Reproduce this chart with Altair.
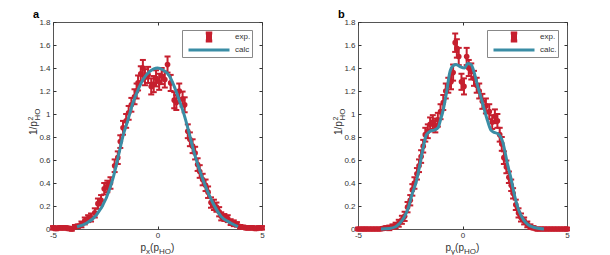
import altair as alt
import pandas as pd

RED = "#C61F2E"
TEAL = "#3A8DA5"
INK = "#333333"
FONT = "Liberation Sans"

# ---------------- panel a data ----------------
A_X = [-5.0, -4.85, -4.7, -4.55, -4.4, -4.25, -4.1, -3.95, -3.8, -3.64,
       -3.48, -3.32, -3.18, -3.0, -2.85, -2.7, -2.55, -2.4, -2.25, -2.05,
       -1.9, -1.78, -1.65, -1.5, -1.38, -1.25, -1.1, -1.0, -0.93, -0.8,
       -0.7, -0.6, -0.45, -0.3, -0.18, -0.07, 0.08, 0.2, 0.35, 0.48,
       0.63, 0.8, 0.9, 1.04, 1.2, 1.3, 1.45, 1.55, 1.68, 1.8,
       1.92, 2.02, 2.16, 2.3, 2.42, 2.56, 2.7, 2.82, 2.95, 3.05,
       3.2, 3.36, 3.5, 3.65, 3.8, 3.95, 4.1, 4.25, 4.4, 4.55,
       4.7, 4.85, 5.0]
A_Y = [0.01, 0.005, 0.01, 0.01, 0.01, 0.005, 0.0, 0.02, 0.025, 0.04,
       0.07, 0.09, 0.10, 0.14, 0.22, 0.25, 0.35, 0.37, 0.40, 0.55,
       0.62, 0.76, 0.88, 0.94, 1.01, 1.08, 1.15, 1.20, 1.27, 1.35,
       1.40, 1.32, 1.34, 1.24, 1.26, 1.31, 1.28, 1.33, 1.30, 1.43,
       1.27, 1.12, 1.10, 1.20, 1.13, 1.08, 0.85, 0.78, 0.72, 0.66,
       0.56, 0.50, 0.43, 0.38, 0.32, 0.23, 0.21, 0.19, 0.15, 0.11,
       0.10, 0.09, 0.06, 0.05, 0.04, 0.02, 0.015, 0.01, 0.01, 0.01,
       0.005, 0.01, 0.01]
A_ERR = [0.015, 0.015, 0.015, 0.015, 0.015, 0.015, 0.015, 0.015, 0.015,
         0.025, 0.03, 0.03, 0.035,
         0.04, 0.045, 0.045, 0.05, 0.05, 0.05, 0.055,
         0.055, 0.055, 0.06, 0.06, 0.06, 0.06, 0.065, 0.065, 0.065, 0.065,
         0.07, 0.07, 0.07, 0.07, 0.07, 0.07, 0.07, 0.07, 0.07, 0.07, 0.07, 0.07,
         0.065, 0.065, 0.065, 0.065, 0.06, 0.06, 0.06, 0.055, 0.055, 0.055,
         0.05, 0.05, 0.05, 0.045, 0.045, 0.04, 0.04, 0.035,
         0.03, 0.03, 0.025, 0.025, 0.02,
         0.015, 0.015, 0.015, 0.015, 0.015, 0.015, 0.015, 0.015]
A_CALC_X = [-3.85, -3.4, -2.93, -2.45, -2.13, -1.89, -1.65, -1.41, -1.17, -0.93,
            -0.69, -0.37, 0.0, 0.25, 0.57, 0.8, 1.04, 1.28, 1.52, 1.76,
            2.0, 2.32, 2.64, 3.04, 3.52, 3.85]
A_CALC_Y = [0.02, 0.05, 0.12, 0.27, 0.44, 0.62, 0.81, 0.95, 1.10, 1.21,
            1.30, 1.37, 1.40, 1.385, 1.33, 1.24, 1.12, 0.99, 0.83, 0.66,
            0.52, 0.36, 0.23, 0.11, 0.05, 0.02]
A_LEGEND = ["exp.", "calc"]

# ---------------- panel b data ----------------
B_X = [-5.0, -4.85, -4.7, -4.55, -4.4, -4.25, -4.1, -3.95, -3.8,
       -3.65, -3.5, -3.35, -3.2, -3.05, -2.9,
       -2.77, -2.63, -2.5, -2.4, -2.3,
       -2.18, -2.08, -1.98, -1.88, -1.78,
       -1.66, -1.55, -1.42, -1.3, -1.18,
       -1.05, -0.92, -0.8, -0.68, -0.55,
       -0.45, -0.35, -0.27, -0.18, -0.05,
       0.07, 0.2, 0.3, 0.42, 0.55,
       0.68, 0.8, 0.95, 1.12, 1.28,
       1.42, 1.55, 1.67, 1.78, 1.88,
       1.98, 2.1, 2.22, 2.33, 2.42,
       2.55, 2.68, 2.8, 2.95, 3.1,
       3.25, 3.4, 3.55, 3.7, 3.85,
       4.0, 4.15, 4.3, 4.45, 4.6,
       4.75, 4.9, 5.0]
B_Y = [0.0, 0.0, 0.0, 0.0, 0.0, 0.0, 0.0, 0.0, 0.005,
       0.01, 0.01, 0.02, 0.03, 0.05, 0.08,
       0.11, 0.19, 0.25, 0.34, 0.40,
       0.48, 0.55, 0.63, 0.72, 0.82,
       0.85, 0.91, 0.93, 0.90, 0.95,
       1.02, 1.10, 1.20, 1.25, 1.28,
       1.36, 1.62, 1.57, 1.50, 1.28,
       1.24, 1.50, 1.40, 1.37, 1.31,
       1.25, 1.20, 1.11, 1.07, 1.02,
       0.93, 0.98, 0.94, 0.82, 0.74,
       0.62, 0.54, 0.45, 0.38, 0.31,
       0.21, 0.14, 0.10, 0.07, 0.04,
       0.02, 0.01, 0.0, 0.0, 0.0,
       0.0, 0.0, 0.0, 0.0, 0.0,
       0.0, 0.0, 0.0]
B_ERR = [0.012, 0.012, 0.012, 0.012, 0.012, 0.012, 0.012, 0.012, 0.012,
         0.015, 0.02, 0.02, 0.025, 0.03, 0.035,
         0.04, 0.045, 0.045, 0.05, 0.05,
         0.05, 0.055, 0.055, 0.055, 0.06,
         0.06, 0.06, 0.06, 0.06, 0.06,
         0.065, 0.065, 0.065, 0.065, 0.065,
         0.07, 0.08, 0.08, 0.075, 0.07,
         0.07, 0.075, 0.07, 0.07, 0.065,
         0.065, 0.065, 0.065, 0.065, 0.065,
         0.06, 0.06, 0.06, 0.06, 0.06,
         0.055, 0.055, 0.05, 0.05, 0.045,
         0.045, 0.04, 0.035, 0.03, 0.025,
         0.02, 0.015, 0.012, 0.012, 0.012,
         0.012, 0.012, 0.012, 0.012, 0.012,
         0.012, 0.012, 0.012]
B_CALC_X = [-3.9, -3.5, -3.2, -3.0, -2.8, -2.6, -2.4, -2.2, -2.05, -1.9,
            -1.73, -1.55, -1.35, -1.17, -1.05, -0.93, -0.77, -0.61, -0.45, -0.3,
            -0.1, 0.1, 0.25, 0.41, 0.56, 0.73, 0.89, 1.04, 1.2, 1.36,
            1.52, 1.68, 1.92, 2.16, 2.32, 2.48, 2.72, 2.92, 3.12, 3.4,
            3.9]
B_CALC_Y = [0.0, 0.005, 0.02, 0.05, 0.10, 0.18, 0.31, 0.42, 0.55, 0.69,
            0.82, 0.85, 0.86, 0.88, 0.95, 1.03, 1.18, 1.36, 1.42, 1.43,
            1.41, 1.40, 1.44, 1.43, 1.36, 1.24, 1.14, 1.04, 0.94, 0.86,
            0.84, 0.83, 0.76, 0.56, 0.44, 0.30, 0.15, 0.08, 0.04, 0.015,
            0.0]
B_LEGEND = ["exp.", "calc."]

X_TICKS = [-5, 0, 5]
Y_TICKS = [0, 0.2, 0.4, 0.6, 0.8, 1, 1.2, 1.4, 1.6, 1.8]

W, H = 209, 207

# legend glyphs (unit = sqrt(symbolSize)/2 px)
I_BEAM = ("M3.25,-0.8L4.55,-0.8M3.9,-0.8L3.9,0.8M3.25,0.8L4.55,0.8"
          "M3.6,-0.3L4.2,-0.3L4.2,0.3L3.6,0.3Z")
LINE = "M-0.2,0L8,0"


def txt(s, x, y, size, angle=0, bold=False):
    return alt.Chart(pd.DataFrame({"t": [s]})).mark_text(
        align="left", baseline="alphabetic", font=FONT, fontSize=size,
        angle=angle, fontWeight="bold" if bold else "normal",
        color="#000000" if bold else INK,
    ).encode(x=alt.value(x), y=alt.value(y), text="t:N")


def panel(px, py, perr, cx, cy, legend_labels, letter, sub):
    pts = pd.DataFrame({"x": px, "y": py, "err": perr})
    calc = pd.DataFrame({"x": cx, "y": cy})
    xs = alt.Scale(domain=[-5, 5], nice=False, zero=False)
    ys = alt.Scale(domain=[0, 1.8], nice=False, zero=False)
    ax_bottom = alt.Axis(orient="bottom", values=X_TICKS, labelExpr="'' + datum.value",
                         offset=-3, tickSize=3, labelPadding=2, title=None, labelFlush=False)
    ax_left = alt.Axis(orient="left", values=Y_TICKS, labelExpr="'' + datum.value",
                       offset=-3, tickSize=3, labelPadding=3, title=None)
    ax_top = alt.Axis(orient="top", values=X_TICKS, labels=False, offset=-3,
                      tickSize=3, title=None)
    ax_right = alt.Axis(orient="right", values=Y_TICKS, labels=False, offset=-3,
                        tickSize=3, title=None)

    base = alt.Chart(pts).transform_calculate(
        lo="datum.y - datum.err", hi="datum.y + datum.err")
    bars = base.mark_rule(color=RED, strokeWidth=2).encode(
        x=alt.X("x:Q", scale=xs, axis=ax_bottom),
        y=alt.Y("lo:Q", scale=ys, axis=ax_left),
        y2="hi:Q")
    caps = base.transform_fold(["lo", "hi"], as_=["end", "v"]).mark_tick(
        color=RED, size=6, thickness=2, orient="horizontal", opacity=1).encode(
        x=alt.X("x:Q", scale=xs, axis=None),
        y=alt.Y("v:Q", scale=ys, axis=None))
    dots = base.mark_circle(color=RED, size=32, opacity=1).encode(
        x=alt.X("x:Q", scale=xs, axis=ax_top),
        y=alt.Y("y:Q", scale=ys, axis=ax_right))
    line = alt.Chart(calc).mark_line(color=TEAL, strokeWidth=3,
                                     interpolate="monotone").encode(
        x=alt.X("x:Q", scale=xs, axis=None),
        y=alt.Y("y:Q", scale=ys, axis=None))
    leg = alt.Legend(orient="none", legendX=129, legendY=8, title=None,
                     direction="vertical", padding=1, rowPadding=1, clipHeight=12,
                     symbolSize=100, symbolStrokeWidth=3, labelFont=FONT,
                     labelFontSize=8, labelColor=INK, labelOffset=39,
                     strokeColor="#888888", fillColor="white")
    legend_layer = alt.Chart(pd.DataFrame({"series": legend_labels})).mark_point(
        filled=False, strokeWidth=3, opacity=1).encode(
        x=alt.X("lx:Q", scale=xs, axis=None),
        y=alt.Y("ly:Q", scale=ys, axis=None),
        color=alt.Color("series:N", scale=alt.Scale(domain=legend_labels,
                                                    range=[RED, TEAL]), legend=leg),
        shape=alt.Shape("series:N", scale=alt.Scale(domain=legend_labels,
                                                    range=[I_BEAM, LINE]), legend=leg))

    texts = [
        txt(letter, -20, -4, 11, bold=True),
        txt("p", 87.5, 229, 10),
        txt(sub, 93.1, 231.5, 8),
        txt("(p", 97.1, 229, 10),
        txt("HO", 106, 231.5, 8),
        txt(")", 118, 229, 10),
        txt("1/p", -16, 113, 10, angle=270),
        txt("2", -20.3, 98.5, 7, angle=270),
        txt("HO", -13.5, 98.5, 8, angle=270),
    ]
    return alt.layer(bars, caps, dots, line, legend_layer, *texts).properties(
        width=W, height=H).resolve_axis(x="independent", y="independent")


pa = panel(A_X, A_Y, A_ERR, A_CALC_X, A_CALC_Y, A_LEGEND, "a", "x")
pb = panel(B_X, B_Y, B_ERR, B_CALC_X, B_CALC_Y, B_LEGEND, "b", "y")

chart = alt.hconcat(pa, pb, spacing=96, bounds="flush").resolve_scale(
    color="independent", shape="independent"
).resolve_legend(color="independent", shape="independent").properties(
    padding={"left": 18, "top": 0, "right": 5, "bottom": 0}
).configure_view(stroke="#555555", strokeWidth=1).configure_axis(
    labelFont=FONT, labelFontSize=8, labelColor=INK, tickColor=INK,
    domain=False, grid=False)

chart.save("out.html", embed_options={"renderer": "svg", "actions": False})
